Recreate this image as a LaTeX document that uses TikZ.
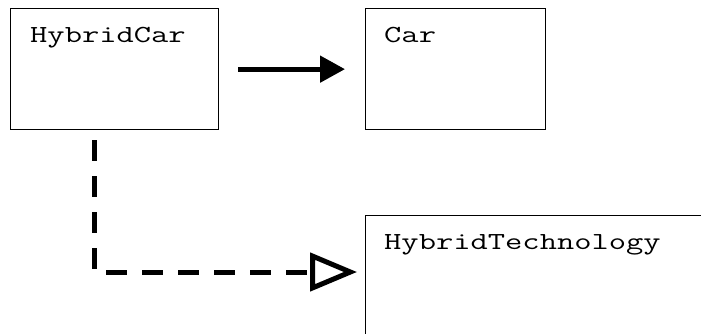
\documentclass[tikz,border=0pt]{standalone}
\usepackage{fontspec}
\usepackage{graphicx}
\usetikzlibrary{arrows.meta,calc}
% wide typewriter lettering for the class names
\newcommand{\clsname}[1]{\scalebox{1.37}[1]{\ttfamily\fontsize{24.5}{26}\selectfont #1}}
\tikzset{
  classbox/.style={draw, line width=1.3pt, rectangle, inner sep=0pt, anchor=north west},
  classname/.style={anchor=north west, inner sep=0pt},
  assoc/.style={line width=5pt, -{Triangle[length=25pt,width=26pt]}},
  dep/.style={line width=5pt, dash pattern=on 21pt off 15pt,
    -{Triangle[open,length=47pt,width=38pt]}}
}
\begin{document}
\begin{tikzpicture}[x=1pt,y=1pt]
  \clip (0,0) rectangle (701,333);
  \fill[white] (0,0) rectangle (701,333);
  % class boxes
  \node[classbox, minimum width=208pt, minimum height=121pt] (hc) at (10,325) {};
  \node[classbox, minimum width=180pt, minimum height=121pt] (car) at (365,325) {};
  \node[classbox, minimum width=360pt, minimum height=160pt] (tech) at (365,118) {};
  % class names
  \node[classname] (hcname) at ($(hc.north west)+(20pt,-19pt)$) {\clsname{HybridCar}};
  \node[classname] (carname) at ($(car.north west)+(19pt,-19pt)$) {\clsname{Car}};
  \node[classname] (techname) at ($(tech.north west)+(19pt,-19pt)$) {\clsname{HybridTechnology}};
  % connectors
  \draw[assoc, shorten <=19pt, shorten >=20pt] (hc.east) -- (car.west);
  \coordinate (deptip) at ($(tech.north west)+(-8pt,-57pt)$);
  \draw[dep, shorten <=10pt] ([xshift=84pt]hc.south west) |- (deptip);
\end{tikzpicture}
\end{document}
